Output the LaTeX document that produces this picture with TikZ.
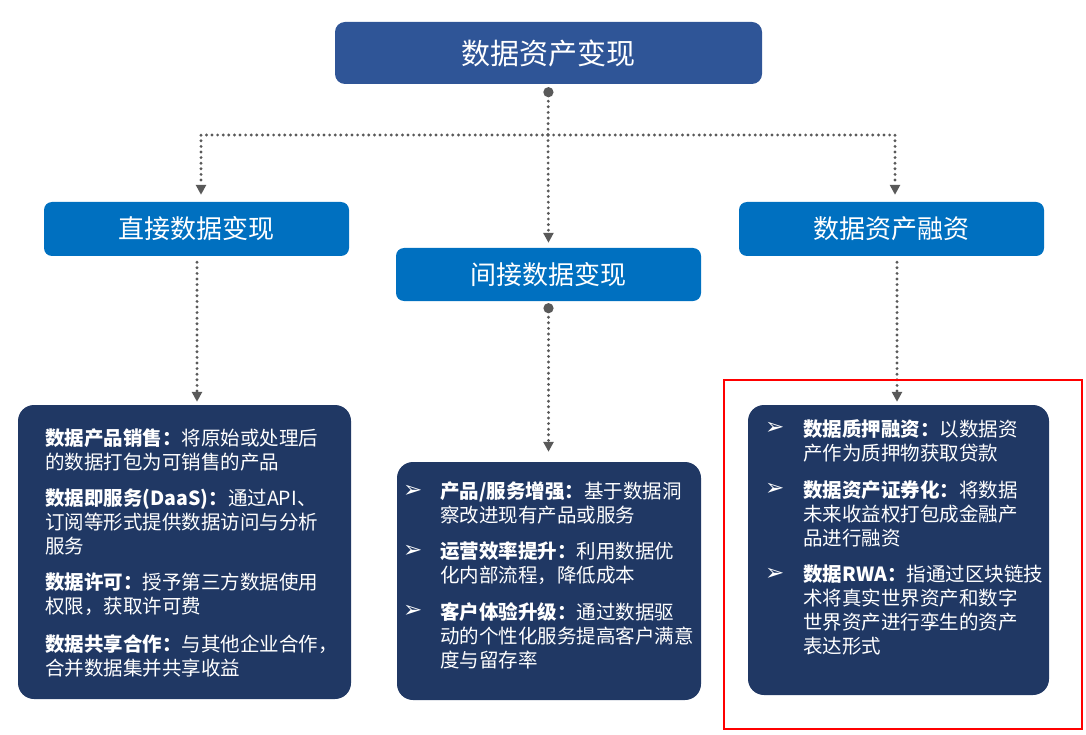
\documentclass[tikz,border=0pt]{standalone}
\usepackage{fontspec}
\setmainfont{Noto Sans CJK SC}
\newfontfamily\symfont{DejaVu Sans}
\usetikzlibrary{arrows.meta}
\definecolor{titleblue}{RGB}{47,85,151}
\definecolor{headblue}{RGB}{0,112,192}
\definecolor{listnavy}{RGB}{32,56,100}
\definecolor{linkgray}{RGB}{89,89,89}
\begin{document}
\begin{tikzpicture}[x=1pt,y=-1pt,
 titlebox/.style={fill=titleblue,rounded corners=10pt,text=white,font=\fontsize{29}{34}\selectfont,minimum width=427pt,minimum height=62pt,inner sep=0pt},
 headbox/.style={fill=headblue,rounded corners=8pt,text=white,font=\fontsize{26}{30}\selectfont,minimum width=305pt,minimum height=54pt,inner sep=0pt},
 listbox/.style={fill=listnavy,rounded corners=16pt,inner sep=0pt},
 itemtext/.style={anchor=north west,align=left,text=white,inner sep=0pt,font=\fontsize{19.5}{24}\selectfont},
 bullet/.style={anchor=west,text=white,inner sep=0pt,font=\symfont\fontsize{23}{26}\selectfont},
 link/.style={draw=linkgray,line width=3.2pt,dash pattern=on 0pt off 5.6pt,line cap=round},
 tip/.style={-{Triangle[width=10pt,length=10pt]}}]
 \useasboundingbox (0,0) rectangle (1086,735);
 % boxes
 \node[titlebox] (top) at (548.5,53) {数据资产变现};
 \node[headbox] (direct) at (196.5,229) {直接数据变现};
 \node[headbox,minimum height=53pt] (indirect) at (548.5,274.5) {间接数据变现};
 \node[headbox] (finance) at (891.5,229) {数据资产融资};
 \node[listbox,minimum width=333pt,minimum height=294pt] (directlist) at (184.5,552) {};
 \node[listbox,minimum width=304pt,minimum height=238pt] (indirectlist) at (549,581) {};
 \node[listbox,minimum width=301pt,minimum height=290pt] (financelist) at (898.5,550) {};
 % links
 \coordinate (split) at (548,135);
 \draw[link,{Circle[length=10pt]}-,shorten <=3pt] (top.south) -- (split);
 \draw[link,tip,shorten >=7pt] (split) -| ([xshift=4.5pt]direct.north);
 \draw[link,tip,shorten >=5pt] (split) -- (indirect.north);
 \draw[link,tip,shorten >=7pt] (split) -| ([xshift=3.5pt]finance.north);
 \draw[link,tip,shorten <=6pt,shorten >=3pt] ([xshift=0.5pt]direct.south) -- ([xshift=0.5pt]direct.south |- directlist.north);
 \draw[link,{Circle[length=10pt]}-{Triangle[width=10pt,length=10pt]},shorten <=2pt,shorten >=10pt] (indirect.south) -- (indirect.south |- indirectlist.north);
 \draw[link,tip,shorten <=6pt,shorten >=3pt] ([xshift=5.5pt]finance.south) -- ([xshift=5.5pt]finance.south |- financelist.north);
 % direct items
 \node[itemtext] (d1) at (45,429) {\textbf{数据产品销售：}将原始或处理后\\的数据打包为可销售的产品};
 \node[itemtext] (d2) at (45,489) {\textbf{数据即服务(DaaS)：}通过API、\\订阅等形式提供数据访问与分析\\服务};
 \node[itemtext] (d3) at (45,573) {\textbf{数据许可：}授予第三方数据使用\\权限，获取许可费};
 \node[itemtext] (d4) at (45,634) {\textbf{数据共享合作：}与其他企业合作，\\合并数据集并共享收益};
 % indirect items
 \foreach \y in {491,551,611} \node[bullet] at (403,\y) {➢};
 \node[itemtext] (i1) at (440,482) {\textbf{产品/服务增强：}基于数据洞\\察改进现有产品或服务};
 \node[itemtext] (i2) at (440,542) {\textbf{运营效率提升：}利用数据优\\化内部流程，降低成本};
 \node[itemtext] (i3) at (440,602) {\textbf{客户体验升级：}通过数据驱\\动的个性化服务提高客户满意\\度与留存率};
 % finance items
 \foreach \y in {428,489,574} \node[bullet] at (765,\y) {➢};
 \node[itemtext] (f1) at (803,419) {\textbf{数据质押融资：}以数据资\\产作为质押物获取贷款};
 \node[itemtext] (f2) at (803,480) {\textbf{数据资产证券化：}将数据\\未来收益权打包成金融产\\品进行融资};
 \node[itemtext] (f3) at (803,565) {\textbf{数据RWA：}指通过区块链技\\术将真实世界资产和数字\\世界资产进行孪生的资产\\表达形式};
 \draw[red,line width=1.5pt] (724,380) rectangle (1082,729);
\end{tikzpicture}
\end{document}
